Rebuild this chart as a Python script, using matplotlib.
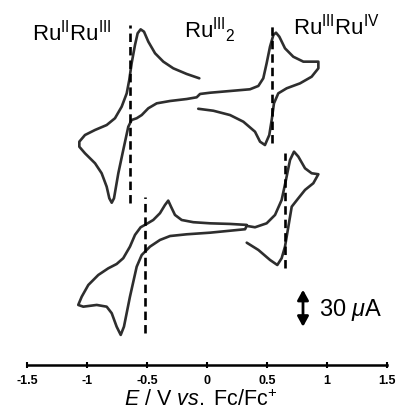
import matplotlib

matplotlib.use("Agg")
import matplotlib.pyplot as plt

plt.rcParams["font.family"] = ["Liberation Sans", "DejaVu Sans"]
plt.rcParams["mathtext.fontset"] = "custom"
plt.rcParams["mathtext.rm"] = "Liberation Sans"
plt.rcParams["mathtext.it"] = "Liberation Sans:italic"

# upper CV (E / V vs Fc/Fc+, i / uA)
top_e = [-0.064, -0.169, -0.281, -0.364, -0.433, -0.489, -0.525, -0.553, -0.578,
         -0.600, -0.628, -0.648, -0.669, -0.711, -0.767, -0.836, -0.933, -1.017,
         -1.064, -1.064, -1.017, -0.933, -0.878, -0.836, -0.814, -0.794, -0.775,
         -0.739, -0.698, -0.656, -0.628, -0.586, -0.544, -0.489, -0.419, -0.308,
         -0.169, -0.086, -0.058, 0.025, 0.192, 0.358, 0.428, 0.469, 0.497,
         0.525, 0.553, 0.575, 0.603, 0.650, 0.719, 0.803, 0.928, 0.928,
         0.872, 0.775, 0.664, 0.594, 0.558, 0.539, 0.519, 0.483, 0.442,
         0.400, 0.303, 0.192, 0.053, -0.073]
top_i = [17.6, 21.1, 25.7, 31.1, 37.9, 47.3, 55.4, 57.3, 54.1,
         44.6, 29.8, 16.2, 5.4, -5.4, -14.8, -20.3, -24.3, -28.4,
         -33.8, -37.9, -43.2, -51.3, -59.4, -70.3, -79.7, -83.3, -79.7,
         -59.4, -40.6, -21.7, -16.2, -14.8, -12.2, -6.7, -2.7, -0.8,
         0.8, 2.2, 4.9, 5.9, 7.3, 8.7, 11.4, 17.6, 29.8,
         43.2, 52.7, 54.6, 51.3, 41.9, 35.1, 31.1, 31.1, 25.7,
         18.9, 13.5, 9.5, 5.4, -2.7, -16.2, -28.4, -36.5, -33.8,
         -25.7, -17.6, -12.2, -8.7, -7.1]

# lower CV
bot_e = [0.331, 0.192, 0.025, -0.114, -0.211, -0.267, -0.300, -0.323, -0.350,
         -0.392, -0.448, -0.503, -0.553, -0.600, -0.642, -0.698, -0.753, -0.823,
         -0.906, -0.989, -1.044, -1.073, -1.031, -0.919, -0.836, -0.794, -0.753,
         -0.719, -0.692, -0.642, -0.586, -0.544, -0.475, -0.392, -0.308, -0.169,
         0.025, 0.192, 0.317, 0.331, 0.400, 0.497, 0.567, 0.622, 0.658,
         0.692, 0.725, 0.761, 0.817, 0.872, 0.928, 0.886, 0.817, 0.761,
         0.706, 0.678, 0.650, 0.622, 0.586, 0.525, 0.428, 0.331]
bot_i = [12.2, 13.0, 13.5, 14.4, 16.2, 20.3, 27.0, 31.9, 28.4,
         21.7, 16.2, 13.0, 10.3, 4.1, -5.4, -14.8, -19.5, -23.0,
         -28.4, -36.5, -46.0, -52.7, -54.1, -52.7, -54.1, -59.4, -70.3,
         -77.0, -70.3, -46.0, -21.7, -12.2, -5.4, 0.0, 3.2, 4.6,
         5.9, 7.5, 8.7, 11.4, 10.3, 13.5, 20.3, 32.4, 48.7,
         64.9, 71.6, 67.6, 58.1, 54.1, 53.3, 46.0, 40.6, 33.8,
         27.0, 10.8, -5.4, -14.8, -20.3, -16.2, -8.1, -2.2]

top_offset = 214.9
bot_offset = 101.4

# half-wave potentials (dashed markers) and their vertical extents
top_e_half = [-0.642, 0.540]
top_dash_lo = [-83.5, -34.9]
top_dash_hi = [60.8, 60.8]
bot_e_half = [-0.517, 0.650]
bot_dash_lo = [-75.4, -22.7]
bot_dash_hi = [35.1, 70.6]

scale_ua = 30
ticks = [-1.5, -1, -0.5, 0, 0.5, 1, 1.5]
tick_labels = ["-1.5", "-1", "-0.5", "0", "0.5", "1", "1.5"]

fig = plt.figure(figsize=(3.96, 4.12), dpi=100)
ax = fig.add_axes([27 / 396, 47 / 412, 360 / 396, 365 / 412])

line_kw = dict(color="#2e2e2e", linewidth=1.9, solid_joinstyle="round",
               solid_capstyle="round")
ax.plot(top_e, [v + top_offset for v in top_i], **line_kw)
ax.plot(bot_e, [v + bot_offset for v in bot_i], **line_kw)

dash_kw = dict(color="black", linewidth=1.9, linestyle=(0, (3.2, 1.9)))
for e, lo, hi in zip(top_e_half, top_dash_lo, top_dash_hi):
    ax.plot([e, e], [lo + top_offset, hi + top_offset], **dash_kw)
for e, lo, hi in zip(bot_e_half, bot_dash_lo, bot_dash_hi):
    ax.plot([e, e], [lo + bot_offset, hi + bot_offset], **dash_kw)

# scale bar
ax.annotate("", xy=(0.80, 31 + scale_ua), xytext=(0.80, 31),
            arrowprops=dict(arrowstyle="<|-|>,head_length=0.6,head_width=0.33",
                            color="black", lw=2.0, shrinkA=0, shrinkB=0))
ax.text(0.935, 44.6, r"30 $\mu$A", fontsize=17, va="center", ha="left")

ax.text(-1.455, 263, r"Ru$^{\mathrm{II}}$Ru$^{\mathrm{III}}$", fontsize=16,
        ha="left", va="baseline")
ax.text(-0.19, 265.5, r"Ru$^{\mathrm{III}}$$_{2}$", fontsize=16,
        ha="left", va="baseline")
ax.text(0.718, 268, r"Ru$^{\mathrm{III}}$Ru$^{\mathrm{IV}}$", fontsize=16,
        ha="left", va="baseline")

ax.set_xlim(-1.5, 1.5)
ax.set_ylim(0, 296.0)
ax.set_xticks(ticks)
ax.set_xticklabels(tick_labels, fontsize=9, fontweight="bold")
ax.tick_params(axis="x", direction="inout", length=5, width=1.5, pad=5)
ax.set_yticks([])
for side in ("left", "right", "top"):
    ax.spines[side].set_visible(False)
ax.spines["bottom"].set_linewidth(1.8)

fig.text(201 / 396, 6 / 412, r"$E$ / V $vs.$ Fc/Fc$^{+}$", fontsize=15.5,
         ha="center", va="baseline")

fig.savefig("out.png", dpi=100)
